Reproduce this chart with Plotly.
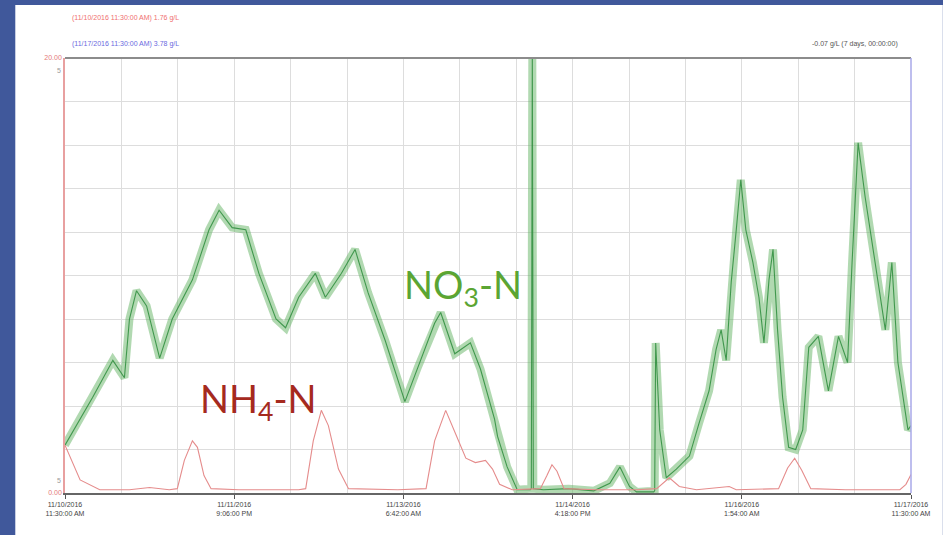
import plotly.graph_objects as go

# ---- data (hours since 11/10/2016 11:30 AM, concentration mg/L) ----
no3_t = [0, 5.5, 9.5, 11.8, 12.8, 14.2, 16.2, 18.8, 21.3, 25.3, 28.6, 30.6, 33.2, 35.9, 38.5,
         41.9, 43.8, 46.4, 49.7, 51.7, 54.9, 57.6, 60.2, 63.6, 67.5, 70.1, 73.4, 74.6, 77.4,
         80.5, 82.5, 85.3, 85.9, 87.8, 89.8, 92.4, 92.6, 92.8, 93.0, 95, 100, 105, 108.2,
         110.2, 112.1, 113.5, 116.9, 117.1, 117.3, 118.1, 119.4, 121.4, 124.0, 125.9, 127.9,
         129.3, 130.3, 131.3, 132.3, 133.3, 134.2, 135.2, 136.6, 137.8, 138.8, 139.8, 140.6,
         141.5, 142.5, 143.7, 145.1, 146.5, 147.7, 149.6, 151.6, 153.6, 155.4, 156.3, 157.5,
         158.9, 160.9, 162.9, 164.2, 165.4, 167.4, 168.0]
no3_v = [2.2, 4.4, 6.1, 5.3, 8.0, 9.3, 8.6, 6.2, 8.0, 9.8, 12.1, 13.0, 12.2, 12.1, 10.1,
         8.0, 7.6, 9.0, 10.1, 9.0, 10.1, 11.2, 9.2, 7.0, 4.2, 5.8, 7.8, 8.3, 6.4,
         6.9, 5.7, 3.4, 2.6, 1.2, 0.15, 0.15, 0.2, 20.0, 0.2, 0.15, 0.2, 0.1, 0.45,
         1.2, 0.3, 0.05, 0.05, 0.1, 6.9, 2.9, 0.7, 1.1, 1.7, 3.2, 4.7,
         6.6, 7.5, 6.1, 9.7, 12.1, 14.4, 12.1, 10.6, 9.0, 6.9, 9.8, 11.2,
         7.5, 4.4, 2.1, 2.0, 2.9, 6.7, 7.2, 4.7, 7.2, 6.0, 10.6, 16.1,
         13.6, 10.6, 7.5, 10.6, 6.0, 2.9, 3.1]

nh4_t = [0, 3.0, 6.9, 12.8, 16.8, 20.7, 22.3, 23.7, 25.3, 26.3, 27.6, 29.0, 34.5, 46.4,
         47.8, 49.3, 50.9, 52.3, 54.3, 56.3, 66.1, 71.7, 73.4, 75.6, 77.6, 79.6, 81.5,
         83.5, 84.9, 86.3, 88.8, 94.4, 95.7, 96.7, 97.7, 99.1, 105.6, 113.5, 117.5, 120.0,
         122.0, 125.4, 131.9, 133.3, 141.7, 143.5, 144.9, 146.3, 148.1, 155.0, 165.8,
         167.0, 168.0]
nh4_v = [2.2, 0.6, 0.15, 0.15, 0.25, 0.15, 0.2, 1.5, 2.4, 2.1, 0.8, 0.2, 0.15, 0.15,
         0.2, 2.4, 3.8, 3.1, 1.1, 0.2, 0.15, 0.2, 2.4, 3.8, 2.7, 1.6, 1.4,
         1.5, 1.1, 0.4, 0.15, 0.2, 0.8, 1.3, 1.0, 0.2, 0.15, 0.15, 0.2, 0.7,
         0.3, 0.15, 0.3, 0.15, 0.2, 1.15, 1.6, 1.05, 0.2, 0.15, 0.15,
         0.4, 0.85]

tick_hours = [0, 33.6, 67.2, 100.8, 134.4, 168.0]
tick_labels = ["11/10/2016<br>11:30:00 AM", "11/11/2016<br>9:06:00 PM", "11/13/2016<br>6:42:00 AM",
               "11/14/2016<br>4:18:00 PM", "11/16/2016<br>1:54:00 AM", "11/17/2016<br>11:30:00 AM"]
cursor_red = "(11/10/2016 11:30:00 AM) 1.76 g/L"
cursor_blue = "(11/17/2016 11:30:00 AM) 3.78 g/L"
delta_text = "-0.07 g/L (7 days, 00:00:00)"

W, H = 943, 535
L, R, T, B = 65, 916, 58, 493

def px(x):
    return (x - L) / (R - L)

def py(y):
    return (B - y) / (B - T)

fig = go.Figure()
fig.add_trace(go.Scatter(x=no3_t, y=no3_v, mode="lines",
                         line=dict(color="rgba(100,180,100,0.5)", width=8), hoverinfo="skip"))
fig.add_trace(go.Scatter(x=no3_t, y=no3_v, mode="lines",
                         line=dict(color="rgba(45,140,60,0.85)", width=1.1)))
fig.add_trace(go.Scatter(x=nh4_t, y=nh4_v, mode="lines",
                         line=dict(color="#E58C8C", width=1.1)))

small = dict(family="Liberation Sans, Arial", size=7)

fig.update_layout(
    width=W, height=H,
    margin=dict(l=L, r=W - R, t=T, b=H - B),
    paper_bgcolor="#40589B",
    plot_bgcolor="white",
    showlegend=False,
    xaxis=dict(range=[0, 168], tickvals=tick_hours, ticktext=tick_labels,
               tickfont=dict(family="Liberation Sans, Arial", size=7, color="#444"),
               ticks="outside", ticklen=4, tickcolor="#555",
               showgrid=True, gridcolor="#DDDDDD", gridwidth=1,
               minor=dict(dtick=11.2, tick0=0, showgrid=True, gridcolor="#DDDDDD", gridwidth=1),
               showline=True, linecolor="#666", linewidth=1.5, zeroline=False, fixedrange=True),
    yaxis=dict(range=[0, 20], tickvals=[0, 20], ticktext=["0.00", "20.00"],
               tickfont=dict(family="Liberation Sans, Arial", size=7, color="#E57A7A"),
               showgrid=True, gridcolor="#DDDDDD",
               minor=dict(dtick=2, tick0=0, showgrid=True, gridcolor="#DDDDDD", gridwidth=1),
               showline=True, linecolor="#E8A0A0", linewidth=1.5, zeroline=False,
               ticks="", fixedrange=True),
    shapes=[
        dict(type="rect", xref="paper", yref="paper", x0=px(15), x1=px(W + 5), y0=py(H + 5), y1=py(5),
             fillcolor="white", line=dict(width=0), layer="below"),
        dict(type="line", xref="paper", yref="paper", x0=0, x1=1, y0=1, y1=1,
             line=dict(color="#8C8C8C", width=2)),
        dict(type="line", xref="paper", yref="paper", x0=1, x1=1, y0=0, y1=1,
             line=dict(color="#A8A8E8", width=1.5)),
    ],
    annotations=[
        dict(text=cursor_red, xref="paper", yref="paper", x=px(70), y=py(18), xanchor="left",
             yanchor="middle", showarrow=False, font=dict(small, color="#F07070")),
        dict(text=cursor_blue, xref="paper", yref="paper", x=px(70), y=py(44), xanchor="left",
             yanchor="middle", showarrow=False, font=dict(small, color="#6A6AE0")),
        dict(text=delta_text, xref="paper", yref="paper", x=px(905), y=py(44), xanchor="right",
             yanchor="middle", showarrow=False, font=dict(small, color="#555")),
        dict(text="5", xref="paper", yref="paper", x=px(63), y=py(70), xanchor="right",
             yanchor="middle", showarrow=False, font=dict(small, color="#9A9A9A")),
        dict(text="5", xref="paper", yref="paper", x=px(63), y=py(480), xanchor="right",
             yanchor="middle", showarrow=False, font=dict(small, color="#9A9A9A")),
        dict(text="NO<sub>3</sub>-N", xref="paper", yref="paper", x=px(465), y=py(287),
             xanchor="center", yanchor="middle", showarrow=False,
             font=dict(family="Lato, Open Sans", size=38, color="#5BA533")),
        dict(text="NH<sub>4</sub>-N", xref="paper", yref="paper", x=px(260), y=py(401),
             xanchor="center", yanchor="middle", showarrow=False,
             font=dict(family="Lato, Open Sans", size=38, color="#A52A1E")),
    ],
)

fig.write_html("out.html", config={"displayModeBar": False},
               post_script="document.body.style.margin='0';document.body.style.padding='0';"
                           "document.body.style.overflow='hidden';")
